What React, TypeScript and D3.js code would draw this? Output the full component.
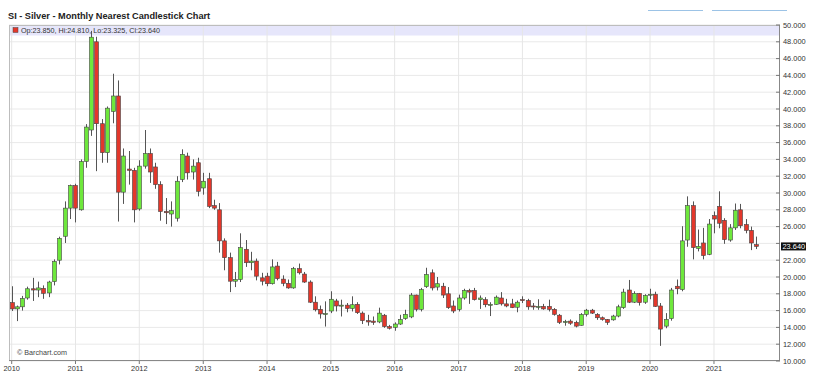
import React from "react";
import * as d3 from "d3";

// Monthly candles, Jan 2010 .. Sep 2021 (nearest silver futures)
const startYear = 2010;
const opens = [
  16.95, 16.2, 16.45, 17.5, 18.6, 18.45, 18.65, 18.1, 19.45, 22.0, 24.85, 28.2,
  30.9, 28.0, 33.75, 37.5, 48.0, 38.25, 34.8, 39.7, 41.55, 30.1, 32.85, 32.7,
  28.1, 33.2, 34.7, 33.1, 31.0, 27.8, 27.5, 27.0, 31.6, 34.4, 32.5, 33.6,
  30.6, 31.7, 28.5, 28.0, 24.3, 22.3, 19.5, 19.7, 23.3, 21.7, 21.9, 19.9,
  20.1, 19.2, 21.3, 19.75, 19.25, 18.7, 21.0, 20.35, 19.4, 17.0, 16.15, 15.55,
  15.95, 17.15, 16.6, 16.65, 16.25, 16.75, 15.7, 14.8, 14.75, 14.65, 15.45, 14.1,
  14.0, 14.4, 15.05, 15.25, 17.85, 16.15, 18.85, 20.5, 18.8, 18.9, 18.0, 16.55,
  16.15, 17.5, 18.4, 18.4, 17.3, 17.3, 16.7, 16.75, 17.5, 16.8, 16.8, 16.4,
  17.3, 17.2, 16.55, 16.45, 16.5, 16.5, 16.15, 15.45, 14.6, 14.75, 14.6, 14.25,
  15.55, 16.05, 15.55, 15.15, 14.95, 14.9, 15.35, 16.35, 18.45, 17.0, 18.05, 17.0,
  17.9, 17.95, 16.55, 14.15, 15.05, 18.9, 18.5, 24.4, 28.5, 23.4, 24.05, 22.7,
  27.3, 28.4, 26.75, 24.4, 25.85, 28.0, 26.25, 25.55, 23.85,
];
const highs = [
  18.9, 16.6, 17.75, 18.85, 19.9, 19.45, 19.0, 19.55, 22.1, 24.8, 29.0, 31.0,
  31.1, 34.0, 38.2, 49.3, 48.6, 38.8, 40.3, 44.2, 43.4, 35.3, 35.0, 33.0,
  33.9, 37.5, 35.3, 33.6, 31.4, 29.4, 29.0, 32.0, 35.2, 34.8, 34.0, 34.2,
  32.4, 32.4, 29.2, 28.8, 24.6, 22.9, 20.6, 25.2, 24.4, 23.0, 22.2, 20.5,
  20.5, 22.1, 21.8, 20.2, 19.7, 21.2, 21.6, 20.6, 19.6, 17.7, 16.6, 17.1,
  18.3, 17.4, 17.3, 16.9, 17.7, 17.0, 15.9, 15.5, 15.3, 16.35, 15.6, 14.3,
  14.6, 15.5, 16.1, 18.1, 17.9, 18.7, 21.1, 20.9, 20.0, 19.3, 18.8, 17.2,
  17.9, 18.6, 18.6, 18.7, 17.8, 17.6, 17.0, 17.8, 18.2, 17.4, 17.4, 17.2,
  17.7, 17.4, 16.9, 17.35, 16.8, 17.3, 16.3, 15.6, 14.9, 14.95, 14.8, 15.7,
  16.2, 16.2, 15.7, 15.3, 15.0, 15.5, 16.7, 18.6, 19.65, 18.3, 18.1, 17.95,
  18.6, 18.25, 16.9, 15.7, 18.7, 19.7, 26.05, 29.6, 29.0, 25.65, 25.85, 26.9,
  27.8, 30.2, 27.0, 26.3, 28.75, 28.7, 26.9, 26.0, 24.81,
];
const lows = [
  15.95, 14.75, 16.0, 17.3, 17.15, 17.6, 17.4, 17.6, 19.0, 21.5, 24.05, 26.9,
  26.5, 27.9, 33.0, 36.8, 32.6, 33.6, 33.6, 38.3, 26.6, 28.7, 31.0, 26.5,
  27.9, 32.9, 31.2, 30.5, 26.7, 26.3, 26.0, 26.6, 31.3, 31.6, 31.6, 29.6,
  29.8, 28.2, 28.0, 22.9, 20.8, 18.2, 18.8, 19.4, 21.2, 20.8, 19.6, 19.0,
  18.9, 19.1, 19.6, 18.9, 18.6, 18.6, 20.3, 19.3, 16.9, 15.9, 15.05, 14.1,
  15.7, 15.9, 15.3, 15.8, 15.9, 15.6, 14.4, 14.2, 14.3, 14.5, 13.95, 13.75,
  13.6, 14.3, 14.9, 15.1, 15.9, 15.9, 18.7, 18.4, 18.4, 17.5, 16.2, 15.7,
  15.9, 17.3, 16.8, 17.2, 16.2, 16.4, 15.35, 16.7, 16.6, 16.4, 16.3, 15.8,
  16.9, 16.1, 16.1, 16.1, 16.1, 15.9, 15.4, 14.4, 14.2, 14.3, 14.0, 14.2,
  15.3, 15.6, 14.9, 14.8, 14.3, 14.8, 15.2, 16.2, 16.9, 16.9, 16.6, 16.8,
  17.35, 16.45, 11.8, 13.9, 14.8, 17.95, 18.3, 23.6, 22.1, 23.05, 22.1, 22.6,
  25.2, 25.8, 23.95, 24.2, 25.6, 25.8, 25.2, 23.2, 23.325,
];
const closes = [
  16.2, 16.45, 17.45, 18.6, 18.45, 18.7, 18.05, 19.4, 21.85, 24.6, 28.2, 30.9,
  28.2, 33.75, 37.85, 48.55, 38.25, 34.8, 40.1, 41.55, 30.1, 34.4, 32.7, 28.0,
  33.2, 34.7, 32.5, 31.0, 27.8, 27.65, 27.9, 31.4, 34.6, 32.4, 33.2, 30.2,
  31.4, 28.4, 28.2, 24.3, 22.3, 19.5, 19.7, 23.5, 21.7, 21.9, 20.1, 19.5,
  19.2, 21.2, 19.8, 19.25, 18.7, 21.0, 20.5, 19.4, 17.0, 16.1, 15.6, 15.65,
  17.35, 16.55, 16.65, 16.25, 16.7, 15.75, 14.8, 14.65, 14.6, 15.7, 14.1, 13.9,
  14.4, 14.95, 15.55, 17.85, 16.15, 18.5, 20.3, 18.7, 19.2, 17.85, 16.35, 15.95,
  17.5, 18.4, 18.2, 17.3, 17.5, 16.7, 16.75, 17.6, 16.8, 16.55, 16.35, 17.0,
  17.2, 16.45, 16.5, 16.5, 16.2, 16.15, 15.55, 14.6, 14.7, 14.5, 14.15, 15.55,
  16.05, 15.7, 15.15, 14.95, 14.6, 15.35, 16.45, 18.2, 17.0, 18.05, 16.95, 17.8,
  17.95, 16.5, 13.8, 14.95, 18.45, 18.6, 24.3, 28.5, 23.5, 23.65, 22.55, 26.3,
  26.9, 26.4, 24.45, 25.85, 27.95, 26.1, 25.55, 24.05, 23.64,
];

const yearTicks = [2010, 2011, 2012, 2013, 2014, 2015, 2016, 2017, 2018, 2019, 2020, 2021];
const priceTicks = [10, 12, 14, 16, 18, 20, 22, 24, 26, 28, 30, 32, 34, 36, 38, 40, 42, 44, 46, 48, 50];
const title = "SI - Silver - Monthly Nearest Candlestick Chart";
const lastLegend = "Op:23.850, Hi:24.810, Lo:23.325, Cl:23.640";
const lastPrice = "23.640";
const credit = "© Barchart.com";

const W = 819;
const H = 387;
const plotL = 9;
const plotR = 780;
const plotT = 25;
const plotB = 361;
const GREEN = "#6ee83c";
const RED = "#e3372b";
const FONT = "'Liberation Sans', Arial, sans-serif";

export default function App() {
  const x = d3
    .scaleTime()
    .domain([new Date(2010, 0, 1), new Date(2020, 0, 1)])
    .range([11.7, 650]);
  const y = d3.scaleLinear().domain([10, 50]).range([plotB, plotT]);

  const candles = opens.map((o, i) => ({
    date: new Date(startYear + Math.floor(i / 12), i % 12, 1),
    o,
    h: highs[i],
    l: lows[i],
    c: closes[i],
  }));
  const bw = 4;
  const last = candles[candles.length - 1];
  const lastY = y(last.c);

  return (
    <div style={{ position: "fixed", left: 0, top: 0, width: W, height: H, background: "#fff" }}>
      <svg width={W} height={H} style={{ display: "block" }} fontFamily={FONT}>
        <rect x={0} y={0} width={W} height={H} fill="#fff" />
        <text x={8} y={19} fontSize={9.2} fontWeight="bold" fill="#222">
          {title}
        </text>
        <line x1={648} x2={703} y1={10.5} y2={10.5} stroke="#9cc3e6" strokeWidth={1.2} />
        <line x1={712} x2={787} y1={10.5} y2={10.5} stroke="#9cc3e6" strokeWidth={1.2} />

        {/* legend band */}
        <rect x={plotL} y={plotT} width={plotR - plotL} height={10.5} fill="#e6e6fb" />

        {/* grid */}
        {priceTicks.map((p) => (
          <line key={"h" + p} x1={plotL} x2={plotR} y1={y(p)} y2={y(p)} stroke="#e9e9e9" strokeWidth={1} />
        ))}
        {yearTicks.map((yr) => (
          <line
            key={"v" + yr}
            x1={x(new Date(yr, 0, 1))}
            x2={x(new Date(yr, 0, 1))}
            y1={plotT}
            y2={plotB}
            stroke="#e6e6e6"
            strokeWidth={1}
          />
        ))}

        {/* candles */}
        {candles.map((d, i) => {
          const cx = Math.round(x(d.date)) + 0.5;
          const up = d.c >= d.o;
          const top = y(Math.max(d.o, d.c));
          const bot = y(Math.min(d.o, d.c));
          return (
            <g key={i}>
              <line x1={cx} x2={cx} y1={y(d.h)} y2={y(d.l)} stroke="#555" strokeWidth={1} />
              <rect
                x={cx - bw / 2}
                y={top}
                width={bw}
                height={Math.max(1, bot - top)}
                fill={up ? GREEN : RED}
                stroke="#444"
                strokeWidth={0.6}
              />
            </g>
          );
        })}

        {/* legend */}
        <rect x={13} y={27.5} width={5} height={5} fill={RED} stroke="#444" strokeWidth={0.5} />
        <text x={21} y={33} fontSize={7.2} fill="#333">
          {lastLegend}
        </text>

        {/* frame */}
        <rect x={plotL + 0.5} y={plotT + 0.5} width={plotR - plotL - 1} height={plotB - plotT - 1} fill="none" stroke="#bdbdbd" strokeWidth={1} />
        <line x1={plotR - 0.5} x2={plotR - 0.5} y1={plotT} y2={plotB} stroke="#888" />
        <line x1={plotL} x2={plotR} y1={plotB - 0.5} y2={plotB - 0.5} stroke="#888" />

        {/* right axis */}
        {priceTicks.map((p) => (
          <g key={"t" + p}>
            <line x1={plotR - 4} x2={plotR} y1={y(p)} y2={y(p)} stroke="#777" />
            {Math.abs(y(p) - lastY) > 8 && (
              <text x={plotR + 3} y={y(p) + 2.6} fontSize={7.4} fill="#333">
                {d3.format(".3f")(p)}
              </text>
            )}
          </g>
        ))}

        {/* last price marker */}
        <rect x={781} y={lastY - 4} width={25} height={8} fill="#111" />
        <text x={782.5} y={lastY + 2.6} fontSize={7.4} fill="#fff">
          {lastPrice}
        </text>

        {/* bottom axis */}
        {yearTicks.map((yr) => {
          const px = x(new Date(yr, 0, 1));
          return (
            <g key={"x" + yr}>
              <line x1={px} x2={px} y1={plotB} y2={plotB + 3} stroke="#777" />
              <text x={px} y={371} fontSize={7.4} fill="#333" textAnchor="middle">
                {yr}
              </text>
            </g>
          );
        })}

        <text x={17} y={355} fontSize={7.2} fill="#444">
          {credit}
        </text>
      </svg>
    </div>
  );
}
